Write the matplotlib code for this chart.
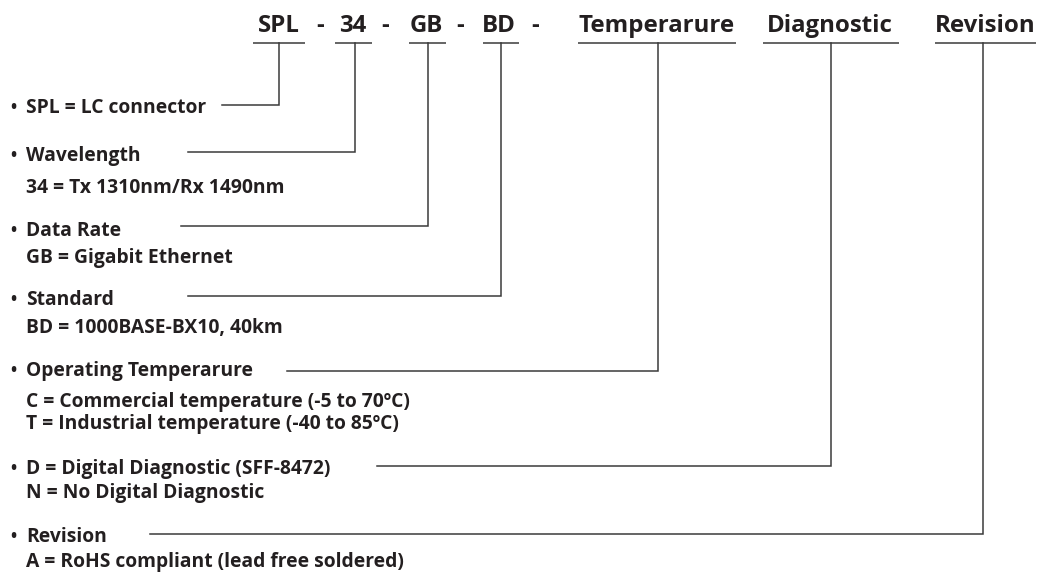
import matplotlib.pyplot as plt

plt.rcParams['font.family'] = ['Open Sans', 'DejaVu Sans']

# Part-number header
codes = ['SPL', '34', 'GB', 'BD', 'Temperarure', 'Diagnostic', 'Revision']
code_x = [279, 353, 426, 499, 657, 830, 985]
dash_x = [320, 385, 460, 535]

# Description blocks: bullet line and the lines under it
titles = ['SPL = LC connector', 'Wavelength', 'Data Rate', 'Standard',
          'Operating Temperarure', 'D = Digital Diagnostic (SFF-8472)', 'Revision']
details = [[],
           ['34 = Tx 1310nm/Rx 1490nm'],
           ['GB = Gigabit Ethernet'],
           ['BD = 1000BASE-BX10, 40km'],
           ['C = Commercial temperature (-5 to 70ºC)', 'T = Industrial temperature (-40 to 85ºC)'],
           ['N = No Digital Diagnostic'],
           ['A = RoHS compliant (lead free soldered)']]
title_y = [113, 161, 236, 305, 376, 474, 542]
detail_y = [[], [193], [263], [333], [407, 429], [498], [567]]

# Leader lines: start x on the left, elbow y, column x
line_start = [222, 188, 181, 188, 287, 377, 150]
line_y = [105, 152, 226, 296, 371, 466, 534]
col_x = [279, 355, 428, 501, 658, 831, 983]
ul_left = [253, 335, 409, 483, 578, 763, 935]
ul_right = [305, 372, 446, 519, 736, 899, 1036]

txt = '#231f20'
lc = '#3a3a3a'

fig = plt.figure(figsize=(10.39, 5.74), dpi=100)
ax = fig.add_axes([0, 0, 1, 1])
ax.set_xlim(0, 1039)
ax.set_ylim(574, 0)
ax.axis('off')

for c, x in zip(codes, code_x):
    ax.text(x, 32, c, ha='center', va='baseline', fontsize=17.3, fontweight='bold', color=txt)
for x in dash_x:
    ax.text(x, 32, '-', ha='center', va='baseline', fontsize=17.3, fontweight='bold', color=txt)

for l, r in zip(ul_left, ul_right):
    ax.plot([l, r], [43, 43], color=lc, lw=1.1, solid_capstyle='butt')

for x0, y, cx in zip(line_start, line_y, col_x):
    ax.plot([x0, cx, cx], [y, y, 43], color=lc, lw=1.1, solid_joinstyle='miter')

for t, ty, d, dy in zip(titles, title_y, details, detail_y):
    ax.text(10, ty, '•', ha='left', va='baseline', fontsize=12, fontweight='bold', color=txt)
    ax.text(26, ty, t, ha='left', va='baseline', fontsize=13.85, fontweight='bold', color=txt)
    for s, y in zip(d, dy):
        ax.text(26, y, s, ha='left', va='baseline', fontsize=13.85, fontweight='bold', color=txt)

fig.savefig('out.png', dpi=100, facecolor='white')
